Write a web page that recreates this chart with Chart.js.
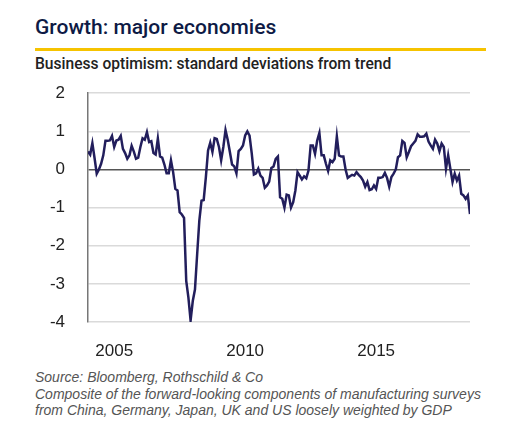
<!DOCTYPE html>
<html>
<head>
<meta charset="utf-8">
<script src="https://cdn.jsdelivr.net/npm/chart.js@4/dist/chart.umd.min.js"></script>
<style>
  html, body { margin: 0; padding: 0; background: #fff; }
  body { width: 515px; height: 432px; position: relative; overflow: hidden; }
  .title { position: absolute; left: 35px; top: 15px; font: 500 21px Roboto, sans-serif; color: #0e1a45; }
  .rule { position: absolute; left: 35px; top: 48px; width: 451px; height: 3px; background: #f6c300; }
  .subtitle { position: absolute; left: 35px; top: 55px; font: 500 15.6px Roboto, sans-serif; color: #222; }
  .notes { position: absolute; left: 35px; top: 369px; font: italic 14px "Liberation Sans", sans-serif; color: #555; line-height: 16.5px; }
  .wrap { position: absolute; left: 40px; top: 60px; width: 440px; height: 302px; }
</style>
</head>
<body>
<div class="title">Growth: major economies</div>
<div class="rule"></div>
<div class="subtitle">Business optimism: standard deviations from trend</div>
<div class="wrap"><canvas id="growthChart"></canvas></div>
<div class="notes">Source: Bloomberg, Rothschild &amp; Co<br>Composite of the forward-looking components of manufacturing surveys<br>from China, Germany, Japan, UK and US loosely weighted by GDP</div>

<script>
const startYear = 2004;
const yearTicks = [2005, 2010, 2015];

// monthly readings, standard deviations from trend
const optimism = [
  0.47, 0.39, 0.69, 0.30, -0.11, 0.00, 0.15, 0.37, 0.75, 0.75,
  0.76, 0.88, 0.59, 0.76, 0.78, 0.88, 0.54, 0.43, 0.28, 0.37,
  0.62, 0.47, 0.28, 0.31, 0.59, 0.82, 0.78, 0.98, 0.72, 0.74,
  0.43, 0.39, 0.81, 0.34, 0.31, 0.13, -0.10, -0.10, 0.24, -0.07,
  -0.51, -0.55, -1.12, -1.18, -1.27, -2.92, -3.36, -3.96, -3.45, -3.15,
  -2.23, -1.34, -0.82, -0.80, -0.20, 0.50, 0.70, 0.46, 0.82, 0.80,
  0.59, 0.24, 0.59, 1.03, 0.78, 0.46, 0.13, 0.08, -0.10, 0.48,
  0.54, 0.63, 0.89, 1.00, 0.89, 0.43, -0.13, -0.10, 0.02, -0.16,
  -0.22, -0.48, -0.42, -0.32, 0.04, 0.08, 0.28, 0.34,
  -0.73, -0.77, -1.00, -0.66, -0.68, -1.00, -0.86, -0.55, -0.07, -0.16,
  -0.26, -0.18, -0.23, -0.03, 0.63, 0.63, 0.41, 0.76, 0.96, 0.37,
  0.37, 0.15, -0.04, 0.24, 0.19, 0.28, 0.87, 0.37, 0.34, 0.34,
  0.00, -0.22, -0.18, -0.14, -0.16, -0.07, -0.14, -0.20, -0.29, -0.45,
  -0.33, -0.54, -0.52, -0.42, -0.51, -0.22, -0.22, -0.20, -0.09, -0.22,
  -0.45, -0.20, -0.11, 0.00, 0.32, 0.37, 0.75, 0.70, 0.32, 0.46,
  0.61, 0.68, 0.75, 0.92, 0.86, 0.86, 0.87, 0.94, 0.73, 0.63,
  0.54, 0.78, 0.68, 0.48, 0.68, 0.59, 0.02, 0.37, 0.02, -0.33,
  -0.11, -0.29, -0.16, -0.64, -0.68, -0.77, -0.68, -1.17
];

const points = optimism.map((v, i) => ({ x: startYear + i / 12, y: v }));
const lastX = points[points.length - 1].x;

const tickFont = { family: "'Liberation Sans', Arial, sans-serif", size: 17 };

new Chart(document.getElementById('growthChart'), {
    type: 'line',
    data: {
        datasets: [{
            data: points,
            borderColor: '#221e5c',
            borderWidth: 2.5,
            pointRadius: 0,
            tension: 0
        }]
    },
    options: {
        responsive: true,
        maintainAspectRatio: false,
        animation: false,
        layout: { padding: { top: 13, right: 10, left: 0, bottom: 0 } },
        plugins: { legend: { display: false }, tooltip: { enabled: false } },
        scales: {
            x: {
                type: 'linear',
                min: startYear,
                max: lastX,
                afterBuildTicks: scale => { scale.ticks = yearTicks.map(v => ({ value: v })); },
                afterFit: scale => { scale.height = 40; },
                grid: { display: false, drawTicks: false },
                border: { display: false },
                ticks: {
                    padding: 19,
                    color: '#222',
                    font: tickFont,
                    maxRotation: 0,
                    callback: v => String(v)
                }
            },
            y: {
                min: -4,
                max: 2,
                afterFit: scale => { scale.width = 48; },
                grid: {
                    drawTicks: false,
                    color: ctx => ctx.tick.value === 0 ? '#555' : '#dadada',
                    lineWidth: 1.5
                },
                border: { display: true, color: '#777', width: 1.5 },
                ticks: {
                    stepSize: 1,
                    padding: 23,
                    color: '#222',
                    font: tickFont
                }
            }
        }
    }
});
</script>
</body>
</html>
